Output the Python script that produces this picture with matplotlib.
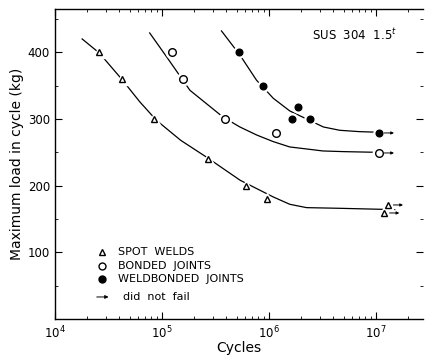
import numpy as np
import matplotlib
matplotlib.use("Agg")
import matplotlib.pyplot as plt

# test points (cycles, load kg)
spot_n = [2.6e4, 4.2e4, 8.4e4, 2.7e5, 6.1e5, 9.6e5, 1.3e7, 1.2e7]
spot_p = [400, 360, 300, 240, 200, 180, 171, 159]
bond_n = [1.25e5, 1.58e5, 3.88e5, 1.16e6, 1.07e7]
bond_p = [400, 360, 300, 279, 249]
weld_n = [5.25e5, 8.85e5, 1.65e6, 1.88e6, 2.41e6, 1.07e7]
weld_p = [400, 350, 300, 318, 300, 279]

# run-outs (did not fail)
runout_n = [1.3e7, 1.2e7, 1.07e7, 1.07e7]
runout_p = [171, 159, 249, 279]

# fitted S-N curves
spot_curve_n = [1.8e4, 2.6e4, 4.2e4, 6.2e4, 8.9e4, 1.5e5, 2.6e5, 5.4e5, 1.1e6, 1.57e6,
                2.25e6, 4.6e6, 1.5e7]
spot_curve_p = [420, 399, 360, 326, 298, 268, 243, 208, 183, 172, 167, 166, 164]
bond_curve_n = [7.7e4, 1.11e5, 1.83e5, 3.72e5, 5.36e5, 7.68e5, 1.1e6, 1.57e6, 2.25e6,
                3.2e6, 5e6, 1.0e7]
bond_curve_p = [429, 393, 343, 303, 288, 276, 266, 258, 255, 252, 251, 250]
weld_curve_n = [3.61e5, 5.36e5, 7.68e5, 1.1e6, 1.57e6, 2.25e6, 3.23e6, 4.6e6, 7e6, 1.07e7]
weld_curve_p = [432, 396, 358, 331, 312, 300, 288, 283, 281, 280]

fig = plt.figure(figsize=(4.25, 3.58), dpi=100)
ax = fig.add_axes([0.129, 0.109, 0.866, 0.866])

lw = 0.9
for cn, cp in [(spot_curve_n, spot_curve_p), (bond_curve_n, bond_curve_p),
               (weld_curve_n, weld_curve_p)]:
    ax.plot(cn, cp, color="black", lw=lw, zorder=1, solid_joinstyle="round")

# white halo behind markers breaks the curve around each point
ax.plot(spot_n, spot_p, "^", ms=8, color="white", mec="white", zorder=2)
ax.plot(bond_n, bond_p, "o", ms=9, color="white", mec="white", zorder=2)
ax.plot(weld_n, weld_p, "o", ms=8, color="white", mec="white", zorder=2)

ax.plot(spot_n, spot_p, "^", ms=4.5, mfc="white", mec="black", mew=1.0, zorder=3)
ax.plot(bond_n, bond_p, "o", ms=5.5, mfc="white", mec="black", mew=1.0, zorder=3)
ax.plot(weld_n, weld_p, "o", ms=4.8, mfc="black", mec="black", zorder=3)

for n, p in zip(runout_n, runout_p):
    ax.annotate("", xy=(n * 1.38, p), xytext=(n * 1.12, p),
                arrowprops=dict(arrowstyle="-|>", color="black", lw=0.7,
                                mutation_scale=4, shrinkA=0, shrinkB=0))

ax.set_xscale("log")
ax.set_xlim(1e4, 2.75e7)
ax.set_ylim(0, 465)
ax.set_yticks([100, 200, 300, 400])
ax.set_yticks([50, 150, 250, 350, 450], minor=True)

ax.spines["right"].set_visible(False)
for s in ["left", "bottom", "top"]:
    ax.spines[s].set_linewidth(1.0)
ax.tick_params(which="both", direction="in", top=True, right=True, labelsize=8.5)
ax.tick_params(which="major", length=5)
ax.tick_params(which="minor", length=2.5)
ax.tick_params(axis="x", which="major", pad=4)

ax.set_xlabel("Cycles", fontsize=10, labelpad=0)
ax.set_ylabel("Maximum load in cycle (kg)", fontsize=10, labelpad=3)

ax.text(0.70, 0.916, "SUS  304  1.5$^{t}$", transform=ax.transAxes, fontsize=8.5,
        va="center")

# legend
leg_y = [0.216, 0.171, 0.129]
leg_txt = ["SPOT  WELDS", "BONDED  JOINTS", "WELDBONDED  JOINTS"]
ax.plot(0.128, leg_y[0], "^", ms=4.5, mfc="white", mec="black", transform=ax.transAxes)
ax.plot(0.128, leg_y[1], "o", ms=5, mfc="white", mec="black", transform=ax.transAxes)
ax.plot(0.128, leg_y[2], "o", ms=5, mfc="black", mec="black", transform=ax.transAxes)
for y, t in zip(leg_y, leg_txt):
    ax.text(0.171, y, t, transform=ax.transAxes, fontsize=8, va="center")
ax.annotate("", xy=(0.146, 0.071), xytext=(0.114, 0.071), xycoords="axes fraction",
            arrowprops=dict(arrowstyle="-|>", color="black", lw=0.7,
                            mutation_scale=5, shrinkA=0, shrinkB=0))
ax.text(0.185, 0.071, "did  not  fail", transform=ax.transAxes, fontsize=8, va="center")

fig.savefig("out.png", dpi=100)
